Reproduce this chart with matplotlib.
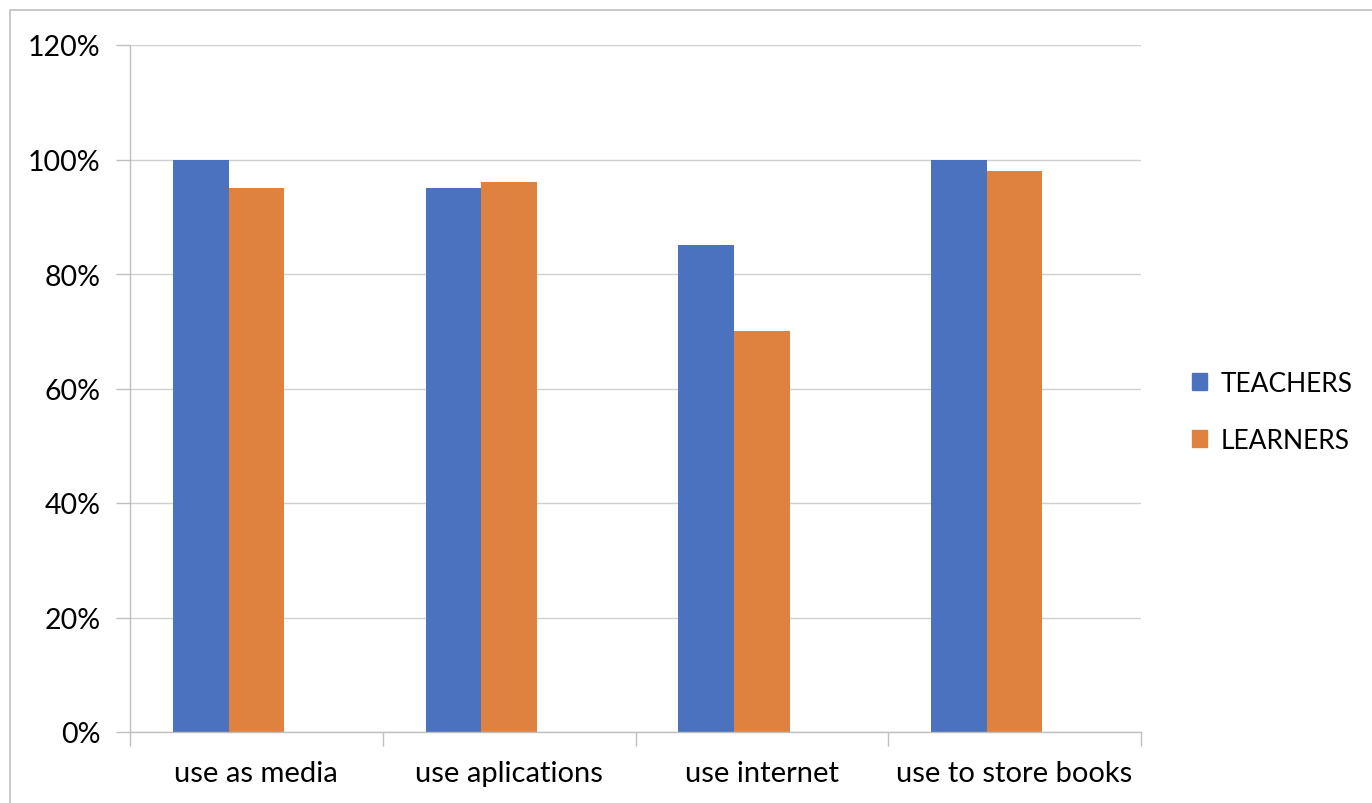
import numpy as np
import matplotlib.pyplot as plt
import matplotlib.patches as mpatches
from matplotlib.ticker import PercentFormatter

plt.rcParams['font.family'] = ['Lato', 'DejaVu Sans']

categorias = ["use as media", "use aplications", "use internet", "use to store books"]
teachers = [100, 95, 85, 100]
learners = [95, 96, 70, 98]
yticks = [0, 20, 40, 60, 80, 100, 120]

cor_teachers = '#4A72BE'
cor_learners = '#E0823F'
cor_grade = '#D0D0D0'

fig = plt.figure(figsize=(13.72, 8.04), dpi=100)
ax = fig.add_axes([130 / 1372, 1 - 733 / 804, 1011 / 1372, 687 / 804])

x = np.arange(len(categorias))
largura = 0.22
ax.bar(x - largura, teachers, width=largura, color=cor_teachers, label='TEACHERS', zorder=2)
ax.bar(x, learners, width=largura, color=cor_learners, label='LEARNERS', zorder=2)

ax.set_xlim(-0.5, len(categorias) - 0.5)
ax.set_ylim(0, 120)
ax.set_yticks(yticks)
ax.yaxis.set_major_formatter(PercentFormatter(decimals=0))
ax.grid(axis='y', color=cor_grade, linewidth=1, zorder=0)

# separadores entre categorias (estilo Excel)
ax.set_xticks(np.arange(len(categorias) + 1) - 0.5)
ax.set_xticklabels([])
ax.set_xticks(x, minor=True)
ax.set_xticklabels(categorias, minor=True, fontsize=21)
ax.tick_params(axis='x', which='minor', length=0, pad=20)
ax.tick_params(axis='x', which='major', length=10, color='#BFBFBF', width=1)
ax.tick_params(axis='y', length=10, color='#BFBFBF', width=1, labelsize=20.5, pad=11)

for lado in ['top', 'right']:
    ax.spines[lado].set_visible(False)
for lado in ['left', 'bottom']:
    ax.spines[lado].set_color('#BFBFBF')
    ax.spines[lado].set_linewidth(1)

handles = [mpatches.Patch(color=cor_teachers, label='TEACHERS'),
           mpatches.Patch(color=cor_learners, label='LEARNERS')]
fig.legend(handles=handles, loc='center left', bbox_to_anchor=(1181 / 1372, 1 - 413 / 804),
           frameon=False, fontsize=19, handlelength=0.6, handleheight=0.6,
           handletextpad=0.5, labelspacing=1.2, borderaxespad=0)

# borda externa do gráfico (só topo e esquerda aparecem)
borda = mpatches.Rectangle((10 / 1372, -0.1), 1.2, 1 - 11 / 804 + 0.1, transform=fig.transFigure,
                           fill=False, edgecolor='#BFBFBF', linewidth=1.2)
fig.patches.append(borda)

plt.savefig('out.png', dpi=100)
